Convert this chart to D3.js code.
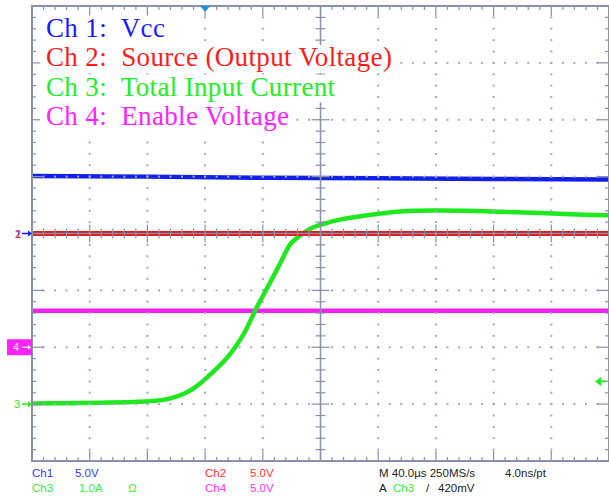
<!DOCTYPE html>
<html>
<head>
<meta charset="utf-8">
<script src="https://cdn.jsdelivr.net/npm/d3@7"></script>
<style>
  body { margin: 0; background: #fff; }
  svg { display: block; }
  text { white-space: pre; }
</style>
</head>
<body>
<div id="scope"></div>
<script>
// legend and readout texts
var legendLabels = ["Ch 1:  Vcc", "Ch 2:  Source (Output Voltage)", "Ch 3:  Total Input Current", "Ch 4:  Enable Voltage"];
var legendColors = ["#1a1aff", "#ff1a1a", "#22ee22", "#ff22ff"];

// traces, in divisions (x: 0..10, y: -4..4)
var blueX = [0, 2, 4, 6, 8, 10];
var blueY = [1.01, 1.0, 0.98, 0.97, 0.96, 0.95];
var redX = [0, 10];
var redY = [0, 0];
var magentaX = [0, 10];
var magentaY = [-1.36, -1.36];
var greenX = [0, 2.04, 2.39, 2.68, 2.91, 3.13, 3.37, 3.54, 3.71, 3.86, 3.97, 4.17, 4.35, 4.46, 4.61, 4.81, 5.04, 5.33, 5.79, 6.37, 7.0, 7.98, 8.84, 9.48, 10];
var greenY = [-2.99, -2.97, -2.91, -2.81, -2.65, -2.44, -2.21, -1.98, -1.71, -1.36, -1.16, -0.78, -0.43, -0.18, -0.06, 0.09, 0.17, 0.25, 0.32, 0.40, 0.41, 0.39, 0.36, 0.33, 0.32];

// channel ground markers (divisions)
var markerLevels = {ch1: 0, ch2: 0, ch3: -3, ch4: -2};
var triggerLevel = -2.6;
var triggerPos = 3.0;

var W = 609, H = 497;
var svg = d3.select("#scope").append("svg").attr("width", W).attr("height", H);

var x = d3.scaleLinear().domain([0, 10]).range([32, 609]);
var y = d3.scaleLinear().domain([-4, 4]).range([461, 6]);

var gridColor = "#8a90aa";

// traces
function trace(xs, ys, color, w, curve) {
  var pts = xs.map(function(v, i) { return [v, ys[i]]; });
  var line = d3.line().x(function(d) { return x(d[0]); }).y(function(d) { return y(d[1]); }).curve(curve || d3.curveLinear);
  svg.append("path").datum(pts)
    .attr("d", line)
    .attr("fill", "none")
    .attr("stroke", color)
    .attr("stroke-width", w);
}
trace(blueX, blueY, "#1020e8", 4.5);
trace(magentaX, magentaY, "#f020f0", 4.5);
trace(greenX, greenY, "#1ee81e", 4.5, d3.curveBasis);
trace(redX, redY, "#e81818", 5);
trace(redX, redY, "#b00000", 1.5);

// grid dots
var dots = svg.append("g").attr("fill", "#a4a8c4");
d3.range(1, 10).forEach(function(i) {
  if (i === 5) return;
  d3.range(1, 40).forEach(function(j) {
    dots.append("rect").attr("x", x(i) - 1).attr("y", y(-4 + j / 5) - 1).attr("width", 2).attr("height", 2);
  });
});
d3.range(-3, 4).forEach(function(j) {
  if (j === 0) return;
  d3.range(1, 50).forEach(function(i) {
    dots.append("rect").attr("x", x(i / 5) - 1).attr("y", y(j) - 1).attr("width", 2).attr("height", 2);
  });
});

// frame
var g = svg.append("g").attr("stroke", gridColor).attr("fill", "none");
g.append("rect").attr("x", 32).attr("y", 6).attr("width", 577).attr("height", 455).attr("stroke-width", 2);

// border ticks
d3.range(1, 50).forEach(function(i) {
  var major = i % 5 === 0, xx = x(i / 5);
  g.append("line").attr("x1", xx).attr("x2", xx).attr("y1", 6).attr("y2", 6 + (major ? 10 : 4)).attr("stroke-width", 1.2);
  g.append("line").attr("x1", xx).attr("x2", xx).attr("y1", 461).attr("y2", 461 - (major ? 10 : 4)).attr("stroke-width", 1.2);
  // center horizontal ticks
  g.append("line").attr("x1", xx).attr("x2", xx).attr("y1", y(0) - (major ? 9 : 5)).attr("y2", y(0) + (major ? 9 : 5)).attr("stroke-width", 1.2);
});
d3.range(1, 40).forEach(function(j) {
  var major = j % 5 === 0, yy = y(-4 + j / 5);
  g.append("line").attr("y1", yy).attr("y2", yy).attr("x1", 32).attr("x2", 32 + (major ? 12 : 4)).attr("stroke-width", 1.2);
  g.append("line").attr("y1", yy).attr("y2", yy).attr("x1", 609).attr("x2", 609 - (major ? 12 : 4)).attr("stroke-width", 1.2);
  // center vertical ticks
  g.append("line").attr("y1", yy).attr("y2", yy).attr("x1", x(5) - (major ? 9 : 5)).attr("x2", x(5) + (major ? 9 : 5)).attr("stroke-width", 1.2);
});
// center cross
g.append("line").attr("x1", x(0)).attr("x2", x(10)).attr("y1", y(0)).attr("y2", y(0)).attr("stroke-width", 1.5);
g.append("line").attr("x1", x(5)).attr("x2", x(5)).attr("y1", y(-4)).attr("y2", y(4)).attr("stroke-width", 1.5);

// legend text on white patches
var leg = svg.append("g");
legendLabels.forEach(function(d, i) {
  var by = 36.5 + i * 29.5;
  var bg = leg.append("rect").attr("fill", "#fff");
  var t = leg.append("text")
    .attr("x", 46)
    .attr("y", by)
    .attr("fill", legendColors[i])
    .style("font-family", "Liberation Serif, Times New Roman, serif")
    .style("font-size", "27px")
    .style("letter-spacing", "0.35px")
    .text(d);
  var bb = t.node().getBBox();
  bg.attr("x", 40).attr("y", by - 21).attr("width", bb.x + bb.width - 40 + 3).attr("height", 28);
});

// trigger position marker
var tp = x(triggerPos);
svg.append("path").attr("d", "M" + (tp - 5) + ",6L" + (tp + 5) + ",6L" + tp + ",12Z").attr("fill", "#1e8fe0");

// trigger level arrow (right)
var tl = y(triggerLevel);
svg.append("path").attr("d", "M595," + tl + "l6,-4.5v9Z").attr("fill", "#22ee22");
svg.append("line").attr("x1", 599).attr("x2", 606).attr("y1", tl).attr("y2", tl).attr("stroke", "#22ee22").attr("stroke-width", 2);

// channel markers
var mk = svg.append("g").style("font-family", "Liberation Sans, Arial, sans-serif").style("font-size", "11px");
function groundArrow(level, color) {
  var yy = y(level);
  mk.append("line").attr("x1", 22).attr("x2", 30).attr("y1", yy).attr("y2", yy).attr("stroke", color).attr("stroke-width", 1.5);
  mk.append("path").attr("d", "M32," + yy + "l-4,-3v6Z").attr("fill", color);
}
groundArrow(markerLevels.ch1, "#1a1aff");
mk.append("text").attr("x", 15).attr("y", y(markerLevels.ch1) + 4).attr("fill", "#1a1aff").text("1");
mk.append("text").attr("x", 15).attr("y", y(markerLevels.ch2) + 4).attr("fill", "#ff2a2a").text("2");
groundArrow(markerLevels.ch3, "#22ee22");
mk.append("text").attr("x", 14).attr("y", y(markerLevels.ch3) + 4).attr("fill", "#22ee22").text("3");
var y4 = y(markerLevels.ch4);
mk.append("rect").attr("x", 7).attr("y", y4 - 8).attr("width", 25).attr("height", 16).attr("fill", "#ff22ff");
mk.append("text").attr("x", 13).attr("y", y4 + 4).attr("fill", "#fff").text("4");
mk.append("line").attr("x1", 22).attr("x2", 29).attr("y1", y4).attr("y2", y4).attr("stroke", "#fff").attr("stroke-width", 1.2);
mk.append("path").attr("d", "M31," + y4 + "l-3,-2.5v5Z").attr("fill", "#fff");

// readout at bottom
var ro = svg.append("g").style("font-family", "Liberation Sans, Arial, sans-serif").style("font-size", "11.5px");
var row1 = 477, row2 = 491.5;
ro.append("text").attr("x", 32).attr("y", row1).attr("fill", "#3333ff").text("Ch1");
ro.append("text").attr("x", 75).attr("y", row1).attr("fill", "#3333ff").text("5.0V");
ro.append("text").attr("x", 205).attr("y", row1).attr("fill", "#ff3333").text("Ch2");
ro.append("text").attr("x", 250).attr("y", row1).attr("fill", "#ff3333").text("5.0V");
ro.append("text").attr("x", 379).attr("y", row1).attr("fill", "#222").text("M 40.0\u00b5s 250MS/s");
ro.append("text").attr("x", 505).attr("y", row1).attr("fill", "#222").text("4.0ns/pt");
ro.append("text").attr("x", 32).attr("y", row2).attr("fill", "#33ee33").text("Ch3");
ro.append("text").attr("x", 79).attr("y", row2).attr("fill", "#33ee33").text("1.0A");
ro.append("text").attr("x", 128).attr("y", row2).attr("fill", "#33ee33").text("\u03a9");
ro.append("text").attr("x", 205).attr("y", row2).attr("fill", "#ff33ff").text("Ch4");
ro.append("text").attr("x", 250).attr("y", row2).attr("fill", "#ff33ff").text("5.0V");
ro.append("text").attr("x", 379).attr("y", row2).attr("fill", "#222").text("A");
ro.append("text").attr("x", 393).attr("y", row2).attr("fill", "#33ee33").text("Ch3");
ro.append("text").attr("x", 426).attr("y", row2).attr("fill", "#222").text("/");
ro.append("text").attr("x", 438).attr("y", row2).attr("fill", "#222").text("420mV");
</script>
</body>
</html>
